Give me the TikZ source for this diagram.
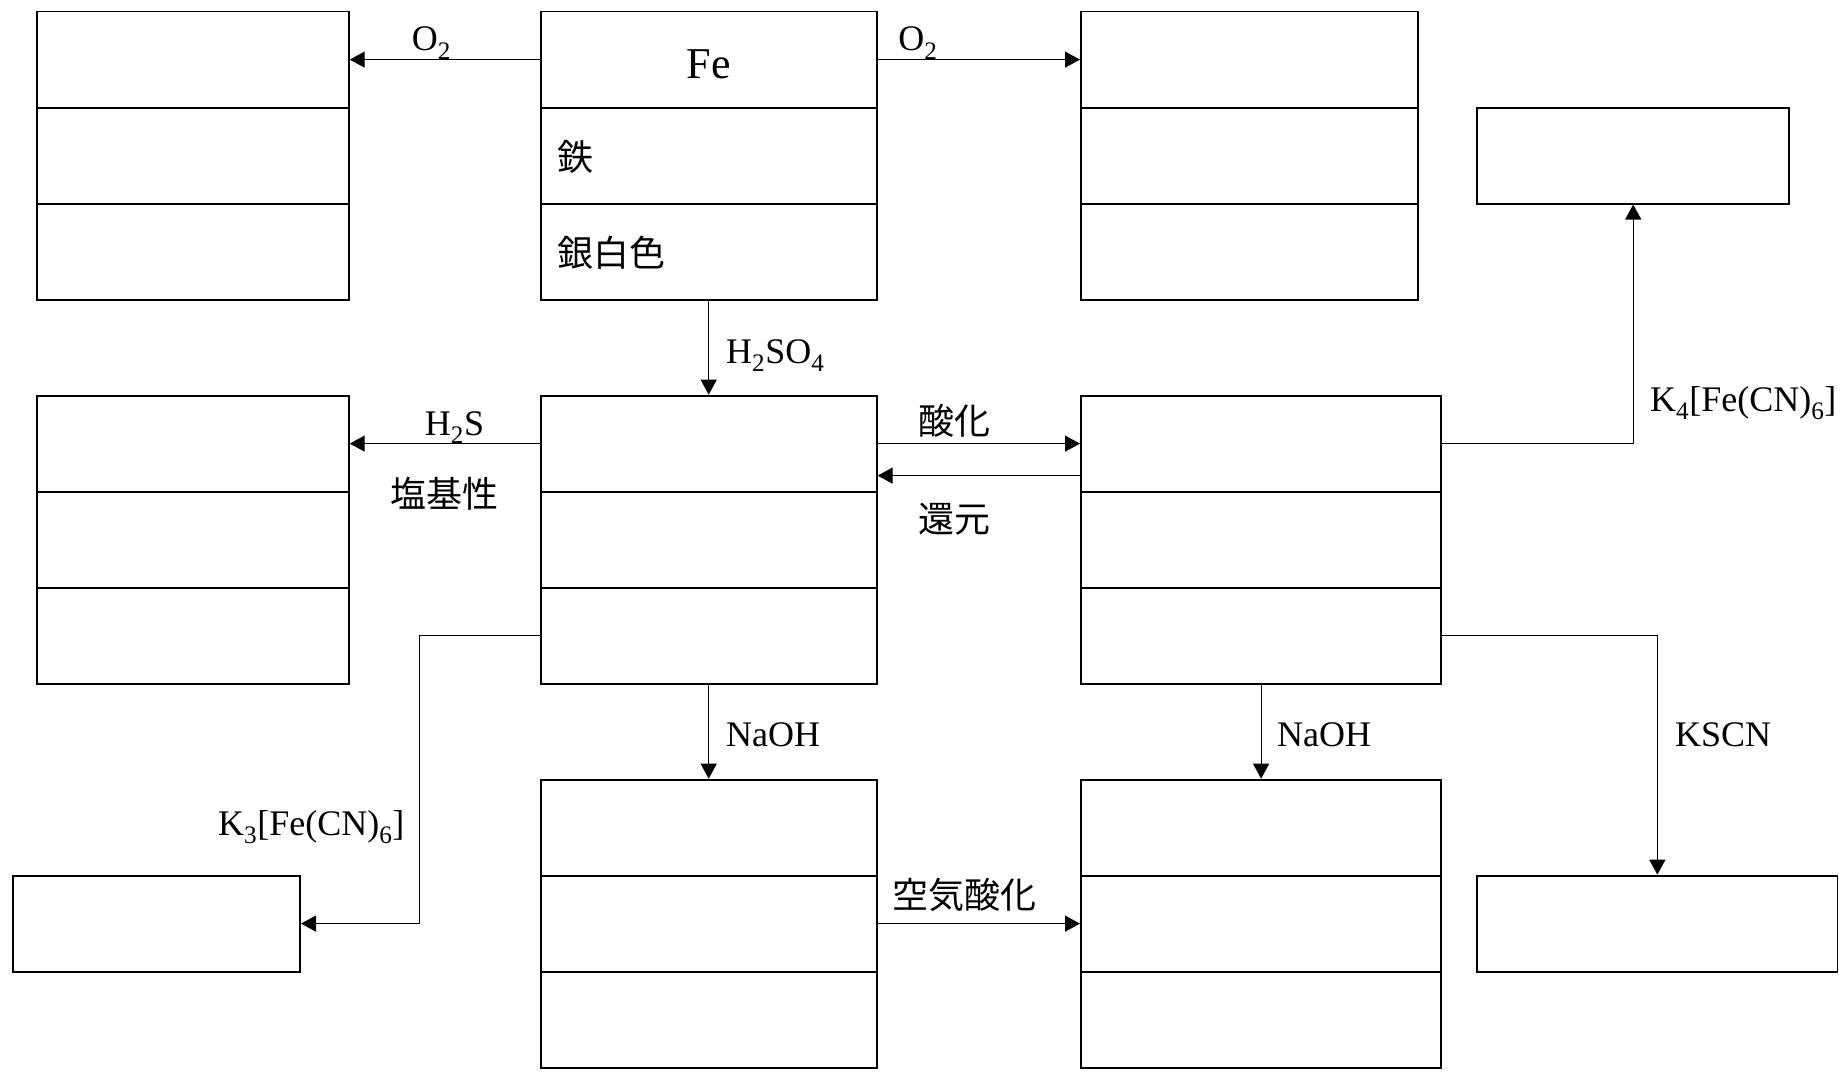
\documentclass[tikz,border=0pt]{standalone}
\usepackage{fontspec}
\setmainfont{Liberation Serif}
\newfontfamily\cjk{Noto Sans CJK JP}
\usetikzlibrary{arrows.meta}
\begin{document}
\begin{tikzpicture}[x=1pt,y=-1pt,
  cell/.style={draw, line width=1.8pt, inner sep=0pt, minimum height=96pt, anchor=north west,
    font=\fontsize{36}{40}\selectfont},
  lcell/.style={cell, inner xsep=17pt, text width=#1-34pt, minimum width=#1, align=left,
    text height=30pt, text depth=0pt},
  lab/.style={inner sep=0pt, font=\fontsize{36}{40}\selectfont},
  conn/.style={line width=1.1pt},
  arr/.style={conn, -{Triangle[length=15pt,width=16pt]}}]
\useasboundingbox (0,0) rectangle (1843,1073);
% top row
\node[cell, minimum width=311.5pt] (tl1) at (36.4,10.7) {};
\node[cell, minimum width=311.5pt] (tl2) at (36.4,106.7) {};
\node[cell, minimum width=311.5pt] (tl3) at (36.4,202.7) {};
\node[cell, minimum width=336pt, font=\fontsize{44}{48}\selectfont, text height=37.6pt, text depth=0pt] (fe1) at (539.8,10.7) {Fe};
\node[lcell=336pt] (fe2) at (539.8,106.7) {\cjk 鉄};
\node[lcell=336pt] (fe3) at (539.8,202.7) {\cjk 銀白色};
\node[cell, minimum width=337pt] (tr1) at (1080,10.7) {};
\node[cell, minimum width=337pt] (tr2) at (1080,106.7) {};
\node[cell, minimum width=337pt] (tr3) at (1080,202.7) {};
\node[cell, minimum width=312pt] (sr) at (1476.3,106.7) {};
% middle row
\node[cell, minimum width=311.5pt] (ml1) at (36.4,394.7) {};
\node[cell, minimum width=311.5pt] (ml2) at (36.4,490.7) {};
\node[cell, minimum width=311.5pt] (ml3) at (36.4,586.7) {};
\node[cell, minimum width=336pt] (mm1) at (539.8,394.7) {};
\node[cell, minimum width=336pt] (mm2) at (539.8,490.7) {};
\node[cell, minimum width=336pt] (mm3) at (539.8,586.7) {};
\node[cell, minimum width=360.4pt] (mr1) at (1080,394.7) {};
\node[cell, minimum width=360.4pt] (mr2) at (1080,490.7) {};
\node[cell, minimum width=360.4pt] (mr3) at (1080,586.7) {};
% bottom row
\node[cell, minimum width=287.5pt] (bl) at (11.7,874.7) {};
\node[cell, minimum width=336pt] (bm1) at (539.8,778.7) {};
\node[cell, minimum width=336pt] (bm2) at (539.8,874.7) {};
\node[cell, minimum width=336pt] (bm3) at (539.8,970.7) {};
\node[cell, minimum width=360.4pt] (br1) at (1080,778.7) {};
\node[cell, minimum width=360.4pt] (br2) at (1080,874.7) {};
\node[cell, minimum width=360.4pt] (br3) at (1080,970.7) {};
\node[cell, minimum width=360.3pt] (bs) at (1476.3,874.7) {};
% connectors
\coordinate (k3bend) at (419.5,0);
\draw[arr] (fe1.west) -- (tl1.east);
\draw[arr] (fe1.east) -- (tr1.west);
\draw[arr] (fe3.south) -- (mm1.north);
\draw[arr] (mm1.west) -- (ml1.east);
\draw[arr] (mm1.east) -- (mr1.west);
\draw[arr] ([yshift=-32pt]mr1.west) -- ([yshift=-32pt]mm1.east);
\draw[arr] (mm3.west) -- (mm3.west -| k3bend) -- (k3bend |- bl.east) -- (bl.east);
\draw[arr] (mm3.south) -- (bm1.north);
\draw[arr] (mr3.south) -- (br1.north);
\draw[arr] (bm2.east) -- (br2.west);
\draw[arr] (mr1.east) -| (sr.south);
\draw[arr] (mr3.east) -| (bs.north);
% labels
\node[lab, anchor=base] (lo2a) at (431.5,51) {O\textsubscript{2}};
\node[lab, anchor=base] (lo2b) at (918,51) {O\textsubscript{2}};
\node[lab, anchor=base west] (lh2so4) at (726,363.3) {H\textsubscript{2}SO\textsubscript{4}};
\node[lab, anchor=base] (lh2s) at (454.5,435.7) {H\textsubscript{2}S};
\node[lab] (lenki) at (444.5,493.5) {\cjk 塩基性};
\node[lab] (lsanka) at (954,421) {\cjk 酸化};
\node[lab] (lkangen) at (954,519) {\cjk 還元};
\node[lab, anchor=base west] (lk4) at (1650,411.6) {K\textsubscript{4}[Fe(CN)\textsubscript{6}]};
\node[lab, anchor=base west] (lk3) at (218,835.7) {K\textsubscript{3}[Fe(CN)\textsubscript{6}]};
\node[lab, anchor=base west] (lnaoha) at (726,746.3) {NaOH};
\node[lab, anchor=base west] (lnaohb) at (1277,746.3) {NaOH};
\node[lab, anchor=base west] (lkscn) at (1675,746.3) {KSCN};
\node[lab] (lkuki) at (964,894.5) {\cjk 空気酸化};
\end{tikzpicture}
\end{document}
